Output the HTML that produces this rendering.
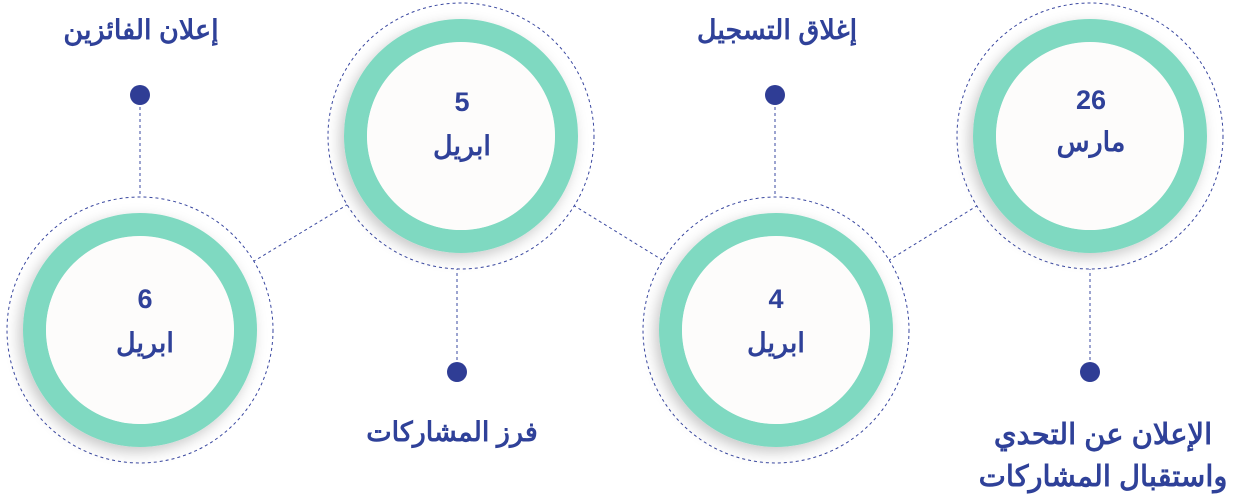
<!DOCTYPE html>
<html><head><meta charset="utf-8"><style>
body{margin:0;width:1240px;height:498px;background:#fff;position:relative;overflow:hidden;font-family:"Liberation Sans","Noto Sans CJK SC",sans-serif;}
svg{position:absolute;left:0;top:0}
.t{position:absolute;color:#2f4199;font-weight:bold;font-size:27px;text-align:center;direction:rtl;white-space:nowrap;line-height:40px}
.c{position:absolute;color:#2f4199;font-weight:bold;font-size:27px;text-align:center;width:120px;line-height:30px}
</style></head><body>
<svg width="1240" height="498">
<defs><filter id="sh" x="-30%" y="-30%" width="160%" height="160%"><feDropShadow dx="-4" dy="5" stdDeviation="7" flood-color="#000" flood-opacity="0.22"/></filter></defs>
<g stroke="#3a48a0" stroke-width="1" stroke-dasharray="3,3" fill="none">
<line x1="140" y1="330" x2="461" y2="136"/>
<line x1="461" y1="136" x2="776" y2="330"/>
<line x1="776" y1="330" x2="1090" y2="136"/>
<line x1="140" y1="95" x2="140" y2="330"/>
<line x1="775" y1="95" x2="775" y2="330"/>
<line x1="457" y1="372" x2="457" y2="136"/>
<line x1="1090" y1="372" x2="1090" y2="136"/>
</g>
<g fill="#2f3d95"><circle cx="140" cy="95" r="10"/><circle cx="775" cy="95" r="10"/><circle cx="457" cy="372" r="10"/><circle cx="1090" cy="372" r="10"/></g>
<g transform="translate(1090,136)"><circle r="133" fill="#fff" stroke="#3a48a0" stroke-dasharray="3,3"/><circle r="105.5" fill="none" stroke="#7fd9c1" stroke-width="23" filter="url(#sh)"/><circle r="94" fill="#fdfcfb"/></g>
<g transform="translate(461,136)"><circle r="133" fill="#fff" stroke="#3a48a0" stroke-dasharray="3,3"/><circle r="105.5" fill="none" stroke="#7fd9c1" stroke-width="23" filter="url(#sh)"/><circle r="94" fill="#fdfcfb"/></g>
<g transform="translate(776,330)"><circle r="133" fill="#fff" stroke="#3a48a0" stroke-dasharray="3,3"/><circle r="105.5" fill="none" stroke="#7fd9c1" stroke-width="23" filter="url(#sh)"/><circle r="94" fill="#fdfcfb"/></g>
<g transform="translate(140,330)"><circle r="133" fill="#fff" stroke="#3a48a0" stroke-dasharray="3,3"/><circle r="105.5" fill="none" stroke="#7fd9c1" stroke-width="23" filter="url(#sh)"/><circle r="94" fill="#fdfcfb"/></g>
</svg>
<div class="c" style="left:1031px;top:85px">26</div><div class="c" style="left:1031px;top:127px">مارس</div>
<div class="c" style="left:402px;top:87px">5</div><div class="c" style="left:402px;top:131px">ابريل</div>
<div class="c" style="left:716px;top:284px">4</div><div class="c" style="left:716px;top:328px">ابريل</div>
<div class="c" style="left:85px;top:284px">6</div><div class="c" style="left:85px;top:328px">ابريل</div>
<div class="t" style="left:0;width:282px;top:10px">إعلان الفائزين</div>
<div class="t" style="left:637px;width:280px;top:10px">إغلاق التسجيل</div>
<div class="t" style="left:312px;width:280px;top:412px">فرز المشاركات</div>
<div class="t" style="left:958px;width:290px;top:414px;line-height:42px;font-size:29px">الإعلان عن التحدي<br>واستقبال المشاركات</div>
</body></html>
